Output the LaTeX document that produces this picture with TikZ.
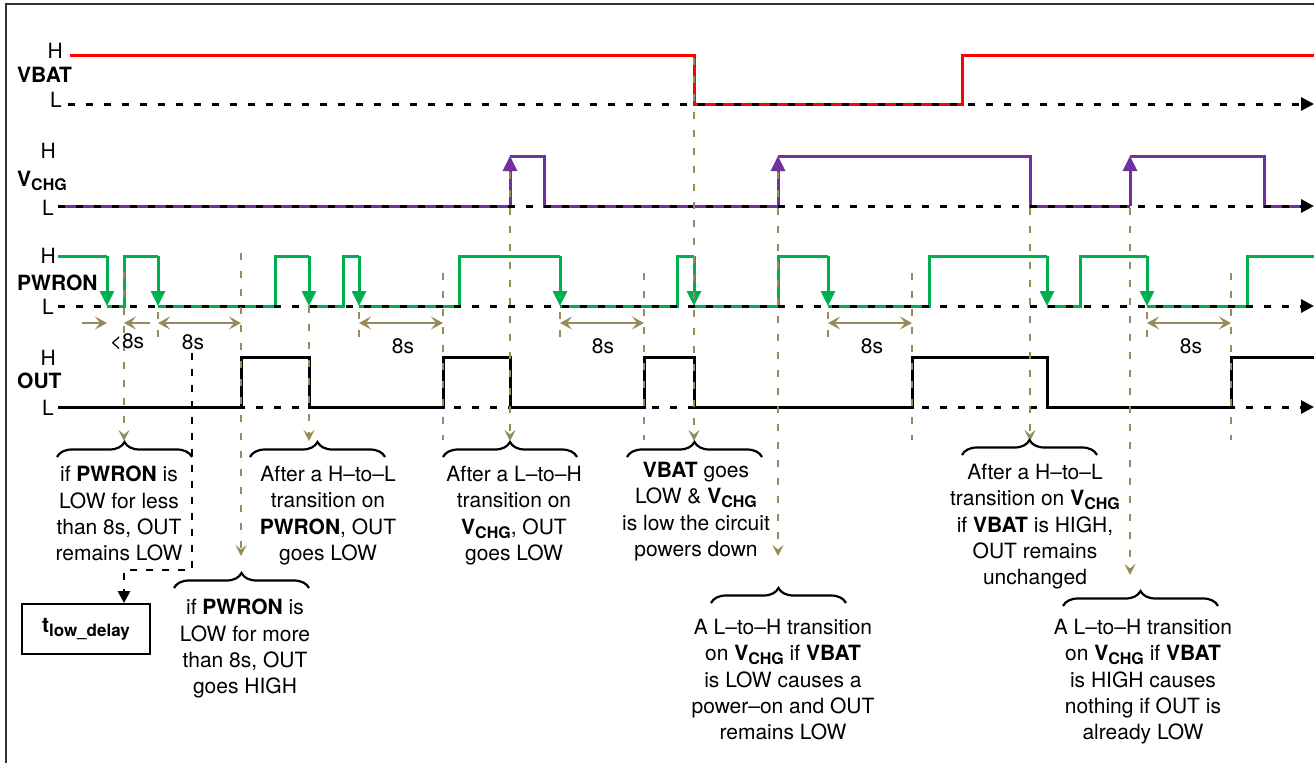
\documentclass[tikz,border=0pt]{standalone}
\usepackage{fontspec}
\setmainfont{TeX Gyre Heros}
\usetikzlibrary{arrows.meta,decorations.pathreplacing}
\definecolor{sred}{RGB}{255,0,0}
\definecolor{sgreen}{RGB}{0,176,80}
\definecolor{spurple}{RGB}{112,48,160}
\definecolor{khaki}{RGB}{150,140,90}
\newcommand\vchg{\textbf{V\raisebox{-4pt}{\fontsize{16}{16}\selectfont CHG}}}
\begin{document}
\begin{tikzpicture}[x=1pt,y=-1pt,
  sig/.style={line width=3pt, line join=miter},
  tri/.style={-{Triangle[length=15pt,width=14pt]}},
  baseline/.style={line width=3pt, dash pattern=on 7pt off 11pt, -{Triangle[length=13pt,width=13pt]}},
  guide/.style={draw=khaki, line width=2.6pt, dash pattern=on 7pt off 11pt},
  garrow/.style={-{Stealth[length=11pt,width=11pt,inset=4.5pt]}},
  meas/.style={draw=khaki, line width=2.8pt, {Stealth[length=12pt,width=13pt,inset=5pt]}-{Stealth[length=12pt,width=13pt,inset=5pt]}},
  half/.style={draw=khaki, line width=2.8pt, -{Stealth[length=12pt,width=13pt,inset=5pt]}},
  note/.style={align=center, inner sep=0pt, anchor=north, font=\fontsize{21}{26.3}\selectfont},
  lbl/.style={inner sep=0pt, font=\fontsize{21}{25}\selectfont},
  brc/.style={decorate, decoration={brace, amplitude=15pt}, line width=2.2pt},
]
\useasboundingbox (0,0) rectangle (1314,763);
% frame
\draw[line width=1.5pt, black!80] (6,763) -- (6,4) -- (1314,4);

% ---- labels
\node[lbl, anchor=base east] (vbH) at (63,58) {H};
\node[lbl, anchor=base west, font=\fontsize{21}{25}\selectfont\bfseries] (vbN) at (17,82) {VBAT};
\node[lbl, anchor=base east] (vbL) at (62,107) {L};
\node[lbl, anchor=base east] (vcH) at (56,158) {H};
\node[lbl, anchor=base west] (vcN) at (17,186) {\vchg};
\node[lbl, anchor=base east] (vcL) at (54,215) {L};
\node[lbl, anchor=base east] (pwH) at (56,263) {H};
\node[lbl, anchor=base west, font=\fontsize{21}{25}\selectfont\bfseries] (pwN) at (17,290) {PWRON};
\node[lbl, anchor=base east] (pwL) at (54,314) {L};
\node[lbl, anchor=base east] (ouH) at (56,365) {H};
\node[lbl, anchor=base west, font=\fontsize{21}{25}\selectfont\bfseries] (ouN) at (17,388) {OUT};
\node[lbl, anchor=base east] (ouL) at (54,415) {L};

% ---- VBAT signal
\draw[sig, sred] (70,55) -- (694,55) -- (694,104) -- (962,104) -- (962,55) -- (1314,55);

% ---- VCHG signal
\draw[sig, spurple] (58,206) -- (510,206);
\draw[sig, spurple, tri] (510,206) -- (510,156);
\draw[sig, spurple] (510,156) -- (544,156) -- (544,206) -- (778,206);
\draw[sig, spurple, tri] (778,206) -- (778,156);
\draw[sig, spurple] (778,156) -- (1030,156) -- (1030,206) -- (1130,206);
\draw[sig, spurple, tri] (1130,206) -- (1130,156);
\draw[sig, spurple] (1130,156) -- (1264,156) -- (1264,206) -- (1300,206);

% ---- PWRON signal
\draw[sig, sgreen] (58,256) -- (107,256);
\draw[sig, sgreen, tri] (107,256) -- (107,306);
\foreach \p/\r/\f in {107/124/158, 158/275/309, 309/343/359, 359/459/560, 560/677/694, 694/778/828, 828/929/1047, 1047/1080/1147}{
  \draw[sig, sgreen] (\p,306) -- (\r,306) -- (\r,256) -- (\f,256);
  \draw[sig, sgreen, tri] (\f,256) -- (\f,306);
}
\draw[sig, sgreen] (1147,306) -- (1247,306) -- (1247,256) -- (1314,256);

% ---- OUT signal
\draw[sig, black] (58,407) -- (241,407) -- (241,357) -- (309,357) -- (309,407) -- (443,407) -- (443,357) -- (510,357) -- (510,407)
  -- (644,407) -- (644,357) -- (694,357) -- (694,407) -- (912,407) -- (912,357) -- (1047,357) -- (1047,407)
  -- (1231,407) -- (1231,357) -- (1314,357);

% ---- baselines
\draw[baseline] (68,104) -- (1314,104);
\draw[baseline] (58,206) -- (1314,206);
\draw[baseline] (58,306) -- (1314,306);
\draw[baseline] (58,407) -- (1314,407);

% ---- guides
\foreach \x/\a/\b in {158/312/340, 359/312/340, 560/312/340, 828/312/340, 1147/312/340,
                      443/273/440, 644/273/440, 912/273/440, 1231/273/440}{
  \draw[guide] (\x,\a) -- (\x,\b);
}
\foreach \x/\a/\b in {124/272/441, 241/253/556, 309/306/441, 510/172/441, 694/58/441, 778/172/556, 1030/208/441, 1130/208/575}{
  \draw[guide, garrow] (\x,\a) -- (\x,\b);
}

% ---- measurement arrows
\draw[half] (82,323) -- (107,323);
\draw[half] (150,323) -- (124,323);
\foreach \a/\b in {158/241, 359/443, 560/644, 828/912, 1147/1231}{
  \draw[meas] (\a,323) -- (\b,323);
}
\node[lbl] (s0) at (127,342) {<8s};
\node[lbl] (s1) at (193,342) {8s};
\node[lbl] (s2) at (403,346) {8s};
\node[lbl] (s3) at (603,346) {8s};
\node[lbl] (s4) at (872,346) {8s};
\node[lbl] (s5) at (1191,346) {8s};

% ---- braces
\draw[brc] (57,457) -- (192,457);
\draw[brc] (250,457) -- (385,457);
\draw[brc] (174,588) -- (309,588);
\draw[brc] (443,457) -- (577,457);
\draw[brc] (627,457) -- (762,457);
\draw[brc] (711,603) -- (846,603);
\draw[brc] (962,455) -- (1097,455);
\draw[brc] (1063,606) -- (1218,606);

% ---- notes
\node[note] (n1) at (119,466) {if \textbf{PWRON} is\\LOW for less\\than 8s, OUT\\remains LOW};
\node[note] (n2) at (328,466) {After a H–to–L\\transition on\\\textbf{PWRON}, OUT\\goes LOW};
\node[note] (n3) at (245,599) {if \textbf{PWRON} is\\LOW for more\\than 8s, OUT\\goes HIGH};
\node[note] (n4) at (514,466) {After a L–to–H\\transition on\\\vchg, OUT\\goes LOW};
\node[note] (n5) at (696,462) {\textbf{VBAT} goes\\LOW \& \vchg\\is low the circuit\\powers down};
\node[note] (n6) at (783,619) {A L–to–H transition\\on \vchg{} if \textbf{VBAT}\\is LOW causes a\\power–on and OUT\\remains LOW};
\node[note] (n7) at (1035,464) {After a H–to–L\\transition on \vchg\\if \textbf{VBAT} is HIGH,\\OUT remains\\unchanged};
\node[note] (n8) at (1143,619) {A L–to–H transition\\on \vchg{} if \textbf{VBAT}\\is HIGH causes\\nothing if OUT is\\already LOW};

% ---- t_low_delay box
\node[draw, line width=1.8pt, minimum width=128pt, minimum height=50pt, inner sep=0pt, font=\fontsize{21}{25}\selectfont] (tlow) at (86,629)
  {\textbf{t\raisebox{-4pt}{\fontsize{17}{17}\selectfont low\_delay}}};
\coordinate (d0) at (192,353);
\coordinate (d1) at (124,570);
\draw[line width=2.5pt, dash pattern=on 7pt off 9pt, -{Triangle[length=12pt,width=12pt]}] (d0) |- (d1) -- (tlow.north -| d1);
\end{tikzpicture}
\end{document}
